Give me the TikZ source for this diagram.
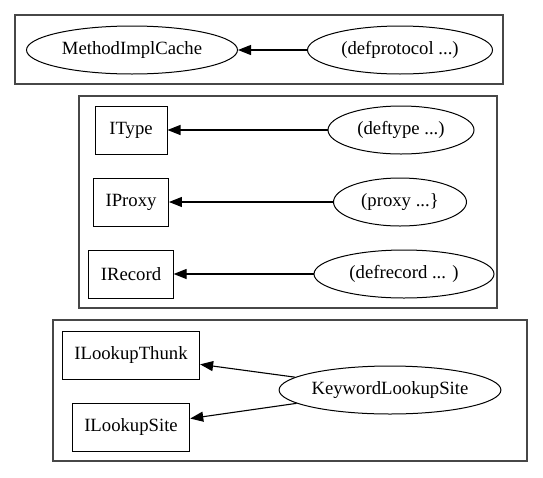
\documentclass[tikz,border=0pt]{standalone}
\usepackage{fontspec}
\setmainfont{Liberation Serif}
\usetikzlibrary{arrows.meta, shapes.geometric}

\begin{document}
\begin{tikzpicture}[
    x=1pt, y=-1pt,
    font=\rmfamily\fontsize{18.7}{22}\selectfont,
    class_box/.style={
        draw=black,
        line width=1pt,
        rectangle,
        minimum width=72pt,
        minimum height=48pt,
        inner xsep=12pt
    },
    form_oval/.style={
        draw=black,
        line width=1pt,
        ellipse,
        inner sep=0pt,
        minimum height=48pt,
        minimum width=#1
    },
    cluster_frame/.style={
        draw=black!72,
        line width=1.4pt
    },
    link_arrow/.style={
        -{Triangle[length=13pt, width=10pt]},
        line width=1.1pt,
        color=black
    }
]

\useasboundingbox (0,0) rectangle (543,477);

% =========================
% CLUSTER 1
% =========================
\draw[cluster_frame] (15,15) rectangle (503,84);

\node[form_oval=211pt] (mic) at (132,50) {MethodImplCache};
\node[form_oval=185pt] (defprotocol) at (400,50) {(defprotocol ...)};

% =========================
% CLUSTER 2
% =========================
\draw[cluster_frame] (79,96) rectangle (497,308);

\node[class_box] (itype) at (131,130) {IType};
\node[class_box] (iproxy) at (131,202) {IProxy};
\node[class_box] (irecord) at (131,274) {IRecord};

\node[form_oval=146pt] (deftype) at (401,130) {(deftype ...)};
\node[form_oval=133pt] (proxy) at (400,202) {(proxy ...\}};
\node[form_oval=180pt] (defrecord) at (404,274) {(defrecord ... )};

% =========================
% CLUSTER 3
% =========================
\draw[cluster_frame] (53,320) rectangle (527,461);

\node[class_box] (thunk) at (131,355) {ILookupThunk};
\node[class_box] (lookupsite) at (131,427) {ILookupSite};
\node[form_oval=213pt] (kwsite) at (390,390) {KeywordLookupSite};

% =========================
% ARROWS
% =========================
\draw[link_arrow] (defprotocol) -- (mic);
\draw[link_arrow] (deftype) -- (itype);
\draw[link_arrow] (proxy) -- (iproxy);
\draw[link_arrow] (defrecord) -- (irecord);
\draw[link_arrow] (kwsite) -- (thunk);
\draw[link_arrow] (kwsite) -- (lookupsite);

\end{tikzpicture}
\end{document}
